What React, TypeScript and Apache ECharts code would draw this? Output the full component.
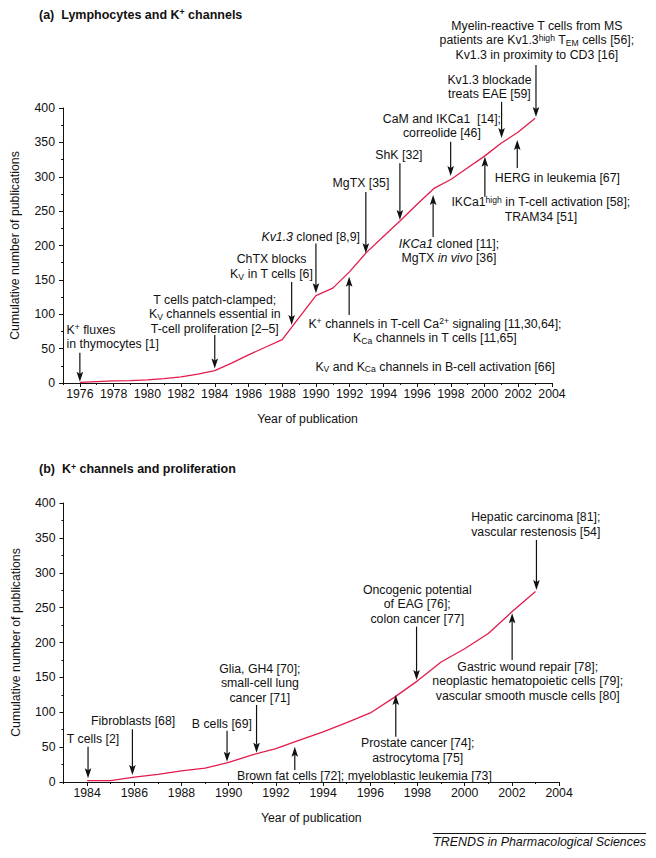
import React, { useEffect, useRef } from 'react';
import * as echarts from 'echarts';

// ---------- data ----------
const yearsA = [1976, 1977, 1978, 1979, 1980, 1981, 1982, 1983, 1984, 1985, 1986, 1987, 1988, 1989, 1990, 1991, 1992, 1993, 1994, 1995, 1996, 1997, 1998, 1999, 2000, 2001, 2002, 2003];
const countsA = [1, 2, 3, 3.5, 4.5, 6.5, 9, 13, 18, 29, 41, 52, 63, 95, 127, 138, 162, 190, 213, 236, 260, 283, 296, 313, 330, 349, 365, 385];

const yearsB = [1984, 1985, 1986, 1987, 1988, 1989, 1990, 1991, 1992, 1993, 1994, 1995, 1996, 1997, 1998, 1999, 2000, 2001, 2002, 2003];
const countsB = [2, 2, 7, 11, 16, 20, 28, 39, 48, 60, 72, 85, 99, 121, 145, 172, 191, 213, 244, 273];

const tickYearsA = [1976, 1978, 1980, 1982, 1984, 1986, 1988, 1990, 1992, 1994, 1996, 1998, 2000, 2002, 2004];
const tickYearsB = [1984, 1986, 1988, 1990, 1992, 1994, 1996, 1998, 2000, 2002, 2004];

// annotation labels (data coordinates of the text block centre)
type Label = { text: string; x: number; y: number; align?: 'left' | 'center' };
type Arrow = { x: number; from: number; to: number };

const labelsA: Label[] = [
  { text: 'K^{+} fluxes\nin thymocytes [1]', x: 1975.21, y: 66.6, align: 'left' },
  { text: 'T cells patch-clamped;\nK_{V} channels essential in\nT-cell proliferation [2–5]', x: 1984.0, y: 100.1 },
  { text: 'ChTX blocks\nK_{V} in T cells [6]', x: 1987.37, y: 169.2 },
  { text: '*{Kv1.3} cloned [8,9]', x: 1989.69, y: 212.8 },
  { text: 'MgTX [35]', x: 1992.67, y: 290.5 },
  { text: 'ShK [32]', x: 1994.92, y: 331.6 },
  { text: 'CaM and IKCa1  [14];\ncorreolide [46]', x: 1997.47, y: 373.8 },
  { text: 'Kv1.3 blockade\ntreats EAE [59]', x: 2000.29, y: 430.3 },
  { text: 'Myelin-reactive T cells from MS\npatients are Kv1.3^{high} T_{EM} cells [56];\nKv1.3 in proximity to CD3 [16]', x: 2003.1, y: 498.2 },
  { text: 'HERG in leukemia [67]', x: 2004.32, y: 297.7 },
  { text: 'IKCa1^{high} in T-cell activation [58];\nTRAM34 [51]', x: 2003.34, y: 252.1 },
  { text: '*{IKCa1} cloned [11];\nMgTX *{in vivo} [36]', x: 1997.89, y: 191.7 },
  { text: 'K^{+} channels in T-cell Ca^{2+} signaling [11,30,64];\nK_{Ca} channels in T cells [11,65]', x: 1997.06, y: 75.9 },
  { text: 'K_{V} and K_{Ca} channels in B-cell activation [66]', x: 1997.07, y: 23.7 },
];
const arrowsA: Arrow[] = [
  { x: 1976, from: 44, to: 2 },
  { x: 1984, from: 70, to: 21 },
  { x: 1988.56, from: 147, to: 84.4 },
  { x: 1990, from: 203, to: 130.5 },
  { x: 1992.96, from: 278, to: 188.7 },
  { x: 1994.98, from: 319.6, to: 237.1 },
  { x: 1997.99, from: 351, to: 301 },
  { x: 2001.01, from: 409, to: 356.4 },
  { x: 2003.05, from: 462.5, to: 387 },
  { x: 2001.94, from: 312.7, to: 353.5 },
  { x: 2000.02, from: 271, to: 329.2 },
  { x: 1996.95, from: 212.4, to: 273.5 },
  { x: 1991.97, from: 98.9, to: 154.6 },
];

const labelsB: Label[] = [
  { text: 'T cells [2]', x: 1984.25, y: 61.2 },
  { text: 'Fibroblasts [68]', x: 1985.95, y: 87.9 },
  { text: 'B cells [69]', x: 1989.71, y: 83.2 },
  { text: 'Glia, GH4 [70];\nsmall-cell lung\ncancer [71]', x: 1991.32, y: 141.5 },
  { text: 'Brown fat cells [72]; myeloblastic leukemia [73]', x: 1995.75, y: 9.0 },
  { text: 'Prostate cancer [74];\nastrocytoma [75]', x: 1998.01, y: 45.4 },
  { text: 'Oncogenic potential\nof EAG [76];\ncolon cancer [77]', x: 1997.99, y: 254.9 },
  { text: 'Gastric wound repair [78];\nneoplastic hematopoietic cells [79];\nvascular smooth muscle cells [80]', x: 2002.67, y: 144.4 },
  { text: 'Hepatic carcinoma [81];\nvascular restenosis [54]', x: 2003.01, y: 369.2 },
];
const arrowsB: Arrow[] = [
  { x: 1984.04, from: 50.6, to: 5.3 },
  { x: 1985.92, from: 75.6, to: 10 },
  { x: 1989.93, from: 73.5, to: 29.1 },
  { x: 1991.18, from: 110.4, to: 42 },
  { x: 1992.8, from: 17.2, to: 50.6 },
  { x: 1997.08, from: 65, to: 124.7 },
  { x: 1997.96, from: 222.7, to: 146.2 },
  { x: 2002.01, from: 174.9, to: 241.9 },
  { x: 2003.04, from: 347, to: 275.3 },
];

// ---------- styling ----------
const FONT = '"Liberation Sans", Arial, Helvetica, sans-serif';
const INK = '#111111';
const RED = '#e31b4b';
const FS = 12.3;
const LH = 14.5;

function toRich(s: string): string {
  return s
    .split('\n')
    .map((line) =>
      line
        .split(/(\^\{[^}]*\}|_\{[^}]*\}|\*\{[^}]*\})/)
        .filter((p) => p.length > 0)
        .map((p) => {
          if (p.startsWith('^{')) return `{sup|${p.slice(2, -1)}}`;
          if (p.startsWith('_{')) return `{sub|${p.slice(2, -1)}}`;
          if (p.startsWith('*{')) return `{it|${p.slice(2, -1)}}`;
          return `{n|${p}}`;
        })
        .join('')
    )
    .join('\n');
}

function richStyles(size: number, weight: string) {
  const small = size * 0.7;
  return {
    n: { fontSize: size, fontFamily: FONT, fontWeight: weight, lineHeight: LH },
    it: { fontSize: size, fontFamily: FONT, fontWeight: weight, fontStyle: 'italic', lineHeight: LH },
    sup: { fontSize: small, fontFamily: FONT, fontWeight: weight, verticalAlign: 'top', lineHeight: LH },
    sub: { fontSize: small, fontFamily: FONT, fontWeight: weight, verticalAlign: 'bottom', lineHeight: LH },
  };
}

function textEl(text: string, x: number, y: number, align: string, size = FS, weight = 'normal') {
  return {
    type: 'text',
    x,
    y,
    z: 10,
    style: {
      text: toRich(text),
      rich: richStyles(size, weight),
      fill: INK,
      align,
      textAlign: align,
      verticalAlign: 'middle',
      textVerticalAlign: 'middle',
      lineHeight: LH,
      font: `${weight} ${size}px ${FONT}`,
    },
  };
}

export default function App() {
  const ref = useRef<HTMLDivElement>(null);

  useEffect(() => {
    document.body.style.margin = '0';
    const chart = echarts.init(ref.current!, undefined, { renderer: 'svg' });
    const axisText = { fontSize: FS, fontFamily: FONT, color: INK };
    const lineSt = { color: INK, width: 1 };

    const grids = [
      { left: 63, top: 108, width: 489, height: 275 },
      { left: 63.5, top: 503, width: 495.6, height: 279 },
    ];

    const xPair = (g: number, min: number, max: number, ticks: number[]) => [
      {
        type: 'value',
        gridIndex: g,
        position: 'bottom',
        min,
        max,
        axisLine: { show: true, onZero: false, lineStyle: lineSt },
        axisTick: { show: true, length: 4, customValues: ticks, lineStyle: lineSt },
        axisLabel: { customValues: ticks, margin: 5, formatter: (v: number) => String(v), ...axisText },
        splitLine: { show: false },
        name: 'Year of publication',
        nameLocation: 'middle',
        nameGap: 30,
        nameTextStyle: axisText,
      },
      {
        type: 'value',
        gridIndex: g,
        position: 'bottom',
        min,
        max,
        interval: 1,
        axisLine: { show: false, onZero: false },
        axisTick: { show: true, length: 2, lineStyle: lineSt },
        axisLabel: { show: false },
        splitLine: { show: false },
      },
    ];

    const yAx = (g: number) => ({
      type: 'value',
      gridIndex: g,
      position: 'left',
      min: 0,
      max: 400,
      interval: 50,
      axisLine: { show: true, onZero: false, lineStyle: lineSt },
      axisTick: { show: true, length: 4, lineStyle: lineSt },
      minorTick: { show: true, splitNumber: 2, length: 2, lineStyle: lineSt },
      axisLabel: { margin: 8, ...axisText },
      splitLine: { show: false },
      minorSplitLine: { show: false },
      name: 'Cumulative number of publications',
      nameLocation: 'middle',
      nameGap: 42,
      nameTextStyle: axisText,
    });

    chart.setOption({
      animation: false,
      grid: grids,
      xAxis: [...xPair(0, 1975, 2004, tickYearsA), ...xPair(1, 1983, 2004, tickYearsB)],
      yAxis: [yAx(0), yAx(1)],
      series: [
        {
          type: 'line',
          xAxisIndex: 0,
          yAxisIndex: 0,
          data: yearsA.map((y, i) => [y, countsA[i]]),
          showSymbol: false,
          lineStyle: { color: RED, width: 1.3 },
          itemStyle: { color: RED },
        },
        {
          type: 'line',
          xAxisIndex: 2,
          yAxisIndex: 1,
          data: yearsB.map((y, i) => [y, countsB[i]]),
          showSymbol: false,
          lineStyle: { color: RED, width: 1.3 },
          itemStyle: { color: RED },
        },
      ],
    });

    const elements: any[] = [];
    const addPanel = (g: number, labels: Label[], arrows: Arrow[]) => {
      labels.forEach((l) => {
        const p = chart.convertToPixel({ gridIndex: g }, [l.x, l.y]) as number[];
        elements.push(textEl(l.text, p[0], p[1], l.align || 'center'));
      });
      arrows.forEach((a) => {
        const p1 = chart.convertToPixel({ gridIndex: g }, [a.x, a.from]) as number[];
        const p2 = chart.convertToPixel({ gridIndex: g }, [a.x, a.to]) as number[];
        const x = p2[0];
        const dir = p2[1] > p1[1] ? 1 : -1;
        const tip = p2[1];
        const base = tip - dir * 10;
        const notch = tip - dir * 8;
        elements.push({
          type: 'line',
          z: 10,
          shape: { x1: x, y1: p1[1], x2: x, y2: notch },
          style: { stroke: INK, lineWidth: 1.2 },
        });
        elements.push({
          type: 'polygon',
          z: 10,
          shape: { points: [[x, tip], [x - 3.3, base], [x, notch], [x + 3.3, base]] },
          style: { fill: INK },
        });
      });
    };
    addPanel(0, labelsA, arrowsA);
    addPanel(1, labelsB, arrowsB);

    elements.push(textEl('(a)  Lymphocytes and K^{+} channels', 39, 15, 'left', 12.5, 'bold'));
    elements.push(textEl('(b)  K^{+} channels and proliferation', 39, 469.3, 'left', 12.5, 'bold'));
    elements.push({
      type: 'line',
      shape: { x1: 432.7, y1: 833.5, x2: 646, y2: 833.5 },
      style: { stroke: INK, lineWidth: 1 },
    });
    elements.push({
      type: 'text',
      x: 646,
      y: 842,
      style: {
        text: 'TRENDS in Pharmacological Sciences',
        fill: INK,
        font: `italic 12.4px ${FONT}`,
        align: 'right',
        textAlign: 'right',
        verticalAlign: 'middle',
        textVerticalAlign: 'middle',
      },
    });

    chart.setOption({ graphic: elements });

    return () => chart.dispose();
  }, []);

  return <div ref={ref} style={{ position: 'absolute', left: 0, top: 0, width: 656, height: 858 }} />;
}
